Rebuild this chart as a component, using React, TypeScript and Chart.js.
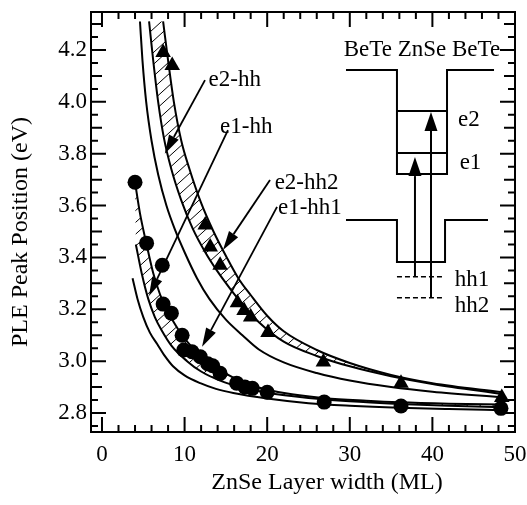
import React, { useEffect, useRef } from 'react';
import { Chart, registerables } from 'chart.js';

Chart.register(...registerables);

// ---------------- data ----------------
const xTickValues = [0, 10, 20, 30, 40, 50];
const yTickValues = [2.8, 3.0, 3.2, 3.4, 3.6, 3.8, 4.0, 4.2];

// measured PLE peaks (circles: e1-hh1 family)
const circleX = [4.0, 5.4, 7.3, 7.4, 8.4, 9.7, 9.9, 10.9, 11.9, 12.8, 13.4, 14.3, 16.3, 17.3, 18.2, 20.0, 26.9, 36.2, 48.3];
const circleY = [3.69, 3.455, 3.37, 3.22, 3.185, 3.10, 3.043, 3.036, 3.017, 2.99, 2.982, 2.953, 2.915, 2.9, 2.895, 2.88, 2.842, 2.827, 2.818];

// measured PLE peaks (triangles: e2-hh family)
const triangleX = [7.4, 8.5, 12.5, 13.1, 14.3, 16.4, 17.2, 18.0, 20.1, 26.8, 36.2, 48.4];
const triangleY = [4.19, 4.14, 3.525, 3.44, 3.37, 3.225, 3.195, 3.17, 3.11, 2.997, 2.915, 2.86];

// calculated curves, upper family
const e2OuterX = [4.6, 4.9, 5.35, 6.0, 6.8, 7.8, 8.8, 10, 11.5, 13, 15, 17, 19, 22, 26, 30, 35, 40, 48.5];
const e2OuterY = [4.31, 4.16, 4.0, 3.85, 3.72, 3.6, 3.51, 3.42, 3.32, 3.24, 3.16, 3.1, 3.045, 2.995, 2.954, 2.925, 2.9, 2.882, 2.86];
const e2BandLowX = [5.7, 6.2, 6.8, 7.5, 8.4, 9.6, 11, 12.5, 13.9, 15.5, 17, 19, 22, 26, 30, 35, 40, 48.5];
const e2BandLowY = [4.31, 4.16, 4.0, 3.86, 3.74, 3.62, 3.51, 3.42, 3.35, 3.28, 3.22, 3.15, 3.075, 3.02, 2.98, 2.942, 2.912, 2.873];
const e2BandHighX = [7.4, 8.0, 8.7, 9.6, 10.6, 12, 13.5, 15.1, 16.5, 18, 20, 22, 26, 30, 35, 40, 48.5];
const e2BandHighY = [4.31, 4.16, 4.0, 3.85, 3.74, 3.61, 3.5, 3.4, 3.32, 3.255, 3.175, 3.115, 3.043, 2.993, 2.947, 2.915, 2.88];

// calculated curves, lower family
const e1OuterX = [3.7, 4.3, 5.0, 5.8, 6.7, 7.6, 8.6, 10, 11.9, 13.8, 15.9, 20, 25, 30, 36, 42, 48.5];
const e1OuterY = [3.32, 3.24, 3.17, 3.11, 3.065, 3.02, 2.98, 2.945, 2.915, 2.893, 2.877, 2.856, 2.838, 2.828, 2.82, 2.815, 2.811];
const e1BandLowX = [4.1, 4.8, 5.6, 6.4, 7.2, 8.4, 10.3, 12, 14.3, 17, 20, 25, 30, 36, 42, 48.5];
const e1BandLowY = [3.45, 3.34, 3.24, 3.17, 3.12, 3.06, 3.0, 2.96, 2.925, 2.898, 2.878, 2.858, 2.845, 2.835, 2.828, 2.822];
const e1BandHighX = [4.0, 4.6, 5.4, 6.2, 7.0, 7.8, 8.6, 9.7, 11, 12.5, 14.3, 16.3, 18.3, 20, 23, 27, 32, 36, 42, 48.5];
const e1BandHighY = [3.69, 3.57, 3.45, 3.34, 3.26, 3.2, 3.155, 3.1, 3.05, 3.005, 2.965, 2.93, 2.905, 2.89, 2.872, 2.857, 2.847, 2.841, 2.836, 2.833];

const FONT = "'Liberation Serif', 'Times New Roman', serif";

const pts = (xs: number[], ys: number[]) => xs.map((x, i) => ({ x, y: ys[i] }));

function curve(xs: number[], ys: number[]) {
  return {
    data: pts(xs, ys),
    showLine: true,
    borderColor: '#000',
    borderWidth: 2,
    pointRadius: 0,
    cubicInterpolationMode: 'monotone' as const,
    fill: false,
  };
}

function bandPath(ctx: CanvasRenderingContext2D, U: any[], L: any[]) {
  ctx.beginPath();
  ctx.moveTo(U[0].x, U[0].y);
  for (let i = 1; i < U.length; i++) {
    const p = U[i - 1], t = U[i];
    ctx.bezierCurveTo(p.cp2x, p.cp2y, t.cp1x, t.cp1y, t.x, t.y);
  }
  const n = L.length;
  ctx.lineTo(L[n - 1].x, L[n - 1].y);
  for (let i = n - 2; i >= 0; i--) {
    const p = L[i + 1], t = L[i];
    ctx.bezierCurveTo(p.cp1x, p.cp1y, t.cp2x, t.cp2y, t.x, t.y);
  }
  ctx.closePath();
}

function arrow(ctx: CanvasRenderingContext2D, x1: number, y1: number, x2: number, y2: number, hl = 18, hw = 12) {
  const a = Math.atan2(y2 - y1, x2 - x1);
  const bx = x2 - hl * Math.cos(a), by = y2 - hl * Math.sin(a);
  ctx.beginPath();
  ctx.moveTo(x1, y1);
  ctx.lineTo(bx, by);
  ctx.stroke();
  ctx.beginPath();
  ctx.moveTo(x2, y2);
  ctx.lineTo(bx + (hw / 2) * Math.sin(a), by - (hw / 2) * Math.cos(a));
  ctx.lineTo(bx - (hw / 2) * Math.sin(a), by + (hw / 2) * Math.cos(a));
  ctx.closePath();
  ctx.fill();
}

const decorPlugin = {
  id: 'decor',
  beforeDatasetsDraw(chart: any) {
    const ctx: CanvasRenderingContext2D = chart.ctx;
    const area = chart.chartArea;
    const hatch = (iu: number, il: number) => {
      const mu = chart.getDatasetMeta(iu), ml = chart.getDatasetMeta(il);
      mu.dataset.updateControlPoints(area, 'x');
      ml.dataset.updateControlPoints(area, 'x');
      ctx.save();
      ctx.beginPath();
      ctx.rect(area.left, area.top, area.right - area.left, area.bottom - area.top);
      ctx.clip();
      bandPath(ctx, mu.data, ml.data);
      ctx.clip();
      ctx.strokeStyle = '#000';
      ctx.lineWidth = 1;
      ctx.beginPath();
      const h = area.bottom - area.top;
      for (let x0 = area.left - h; x0 < area.right + 20; x0 += 13) {
        ctx.moveTo(x0, area.bottom);
        ctx.lineTo(x0 + h * 1.1, area.top);
      }
      ctx.stroke();
      ctx.restore();
    };
    hatch(4, 3);
    hatch(7, 6);
  },
  afterDatasetsDraw(chart: any) {
    const ctx: CanvasRenderingContext2D = chart.ctx;
    const area = chart.chartArea;
    const sx = chart.scales.x, sy = chart.scales.y;
    const X = (v: number) => sx.getPixelForValue(v);
    const Y = (v: number) => sy.getPixelForValue(v);
    ctx.save();
    ctx.strokeStyle = '#000';
    ctx.fillStyle = '#000';
    ctx.lineWidth = 1.8;
    ctx.lineCap = 'butt';

    // label arrows
    arrow(ctx, X(12.47), Y(4.084), X(7.6), Y(3.80), 19, 11);
    arrow(ctx, X(15.25), Y(3.891), X(5.69), Y(3.251), 19, 11);
    arrow(ctx, X(20.34), Y(3.699), X(14.65), Y(3.429), 19, 11);
    arrow(ctx, X(21.19), Y(3.595), X(12.11), Y(3.055), 19, 11);

    ctx.font = `23px ${FONT}`;
    ctx.textBaseline = 'middle';
    ctx.textAlign = 'left';
    ctx.fillText('e2-hh', X(12.9), Y(4.084));
    ctx.fillText('e1-hh', X(14.3), Y(3.903));
    ctx.fillText('e2-hh2', X(20.9), Y(3.687));
    ctx.fillText('e1-hh1', X(21.3), Y(3.591));

    // inset: band diagram
    ctx.lineWidth = 2;
    const cbTop = Y(4.123), cbBot = Y(3.722);
    const wl = X(35.71), wr = X(41.77);
    ctx.beginPath();
    ctx.moveTo(X(29.54), cbTop);
    ctx.lineTo(wl, cbTop);
    ctx.lineTo(wl, cbBot);
    ctx.lineTo(wr, cbBot);
    ctx.lineTo(wr, cbTop);
    ctx.lineTo(X(47.46), cbTop);
    ctx.stroke();
    ctx.beginPath();
    ctx.moveTo(wl, Y(3.965));
    ctx.lineTo(wr, Y(3.965));
    ctx.moveTo(wl, Y(3.803));
    ctx.lineTo(wr, Y(3.803));
    ctx.stroke();
    const vbTop = Y(3.544), vbBot = Y(3.382);
    const vl = X(35.71), vr = X(41.53);
    ctx.beginPath();
    ctx.moveTo(X(29.54), vbTop);
    ctx.lineTo(vl, vbTop);
    ctx.lineTo(vl, vbBot);
    ctx.lineTo(vr, vbBot);
    ctx.lineTo(vr, vbTop);
    ctx.lineTo(X(46.73), vbTop);
    ctx.stroke();
    ctx.save();
    ctx.lineWidth = 1.5;
    ctx.setLineDash([5, 3]);
    ctx.beginPath();
    ctx.moveTo(vl, Y(3.325));
    ctx.lineTo(X(41.16), Y(3.325));
    ctx.moveTo(vl, Y(3.244));
    ctx.lineTo(X(41.16), Y(3.244));
    ctx.stroke();
    ctx.restore();
    arrow(ctx, X(37.89), Y(3.325), X(37.89), Y(3.787), 19, 13);
    arrow(ctx, X(39.83), Y(3.244), X(39.83), Y(3.961), 19, 13);

    ctx.textAlign = 'center';
    ctx.fillText('BeTe ZnSe BeTe', X(38.74), Y(4.20));
    ctx.textAlign = 'left';
    ctx.fillText('e2', X(43.1), Y(3.93));
    ctx.fillText('e1', X(43.3), Y(3.765));
    ctx.fillText('hh1', X(42.7), Y(3.313));
    ctx.fillText('hh2', X(42.7), Y(3.213));

    // frame
    ctx.lineWidth = 2;
    ctx.strokeRect(area.left, area.top, area.right - area.left, area.bottom - area.top);

    // inward ticks on all four sides
    ctx.beginPath();
    for (let k = 0; k <= 25; k++) {
      const v = k * 2;
      const x = X(v);
      const len = v % 10 === 0 ? 15 : 7;
      ctx.moveTo(x, area.bottom);
      ctx.lineTo(x, area.bottom - len);
      ctx.moveTo(x, area.top);
      ctx.lineTo(x, area.top + len);
    }
    for (let k = 55; k <= 86; k++) {
      const v = k * 0.05;
      const y = Y(v);
      const len = k % 4 === 0 ? 15 : k % 2 === 0 ? 11 : 7;
      ctx.moveTo(area.left, y);
      ctx.lineTo(area.left + len, y);
      ctx.moveTo(area.right, y);
      ctx.lineTo(area.right - len, y);
    }
    ctx.stroke();

    // axis titles
    ctx.font = `24px ${FONT}`;
    ctx.textAlign = 'center';
    ctx.textBaseline = 'middle';
    ctx.fillText('ZnSe Layer width (ML)', 327, 483);
    ctx.save();
    ctx.translate(21, 232);
    ctx.rotate(-Math.PI / 2);
    ctx.fillText('PLE Peak Position (eV)', 0, 0);
    ctx.restore();
    ctx.restore();
  },
};

export default function App() {
  const ref = useRef<HTMLCanvasElement>(null);
  useEffect(() => {
    if (!ref.current) return;
    const chart = new Chart(ref.current, {
      type: 'scatter',
      data: {
        datasets: [
          {
            data: pts(circleX, circleY),
            pointStyle: 'circle',
            pointRadius: 7.5,
            backgroundColor: '#000',
            borderColor: '#000',
            borderWidth: 0,
            showLine: false,
          },
          {
            data: pts(triangleX, triangleY),
            pointStyle: 'triangle',
            pointRadius: 9,
            backgroundColor: '#000',
            borderColor: '#000',
            borderWidth: 0,
            showLine: false,
          },
          curve(e2OuterX, e2OuterY),
          curve(e2BandLowX, e2BandLowY),
          curve(e2BandHighX, e2BandHighY),
          curve(e1OuterX, e1OuterY),
          curve(e1BandLowX, e1BandLowY),
          curve(e1BandHighX, e1BandHighY),
        ] as any,
      },
      options: {
        animation: false,
        responsive: false,
        events: [],
        layout: { padding: { left: 0, right: 12, top: 12, bottom: 0 } },
        plugins: {
          legend: { display: false },
          tooltip: { enabled: false },
          title: { display: false },
        },
        scales: {
          x: {
            type: 'linear',
            min: -1.33,
            max: 50,
            grid: { display: false, drawTicks: false },
            border: { display: false },
            ticks: {
              padding: 9,
              color: '#000',
              font: { family: FONT, size: 23 },
              maxRotation: 0,
              autoSkip: false,
              callback: (v: any) => String(v),
            },
            afterBuildTicks: (s: any) => {
              s.ticks = xTickValues.map((v) => ({ value: v }));
            },
            afterFit: (s: any) => {
              s.height = 73;
              s.paddingLeft = 0;
              s.paddingRight = 0;
            },
          },
          y: {
            type: 'linear',
            min: 2.7267,
            max: 4.3465,
            grid: { display: false, drawTicks: false },
            border: { display: false },
            ticks: {
              padding: 4,
              color: '#000',
              font: { family: FONT, size: 23 },
              autoSkip: false,
              callback: (v: any) => Number(v).toFixed(1),
            },
            afterBuildTicks: (s: any) => {
              s.ticks = yTickValues.map((v) => ({ value: v }));
            },
            afterFit: (s: any) => {
              s.width = 91;
              s.paddingTop = 0;
              s.paddingBottom = 0;
            },
          },
        },
      } as any,
      plugins: [decorPlugin as any],
    });
    return () => chart.destroy();
  }, []);
  return (
    <div style={{ position: 'fixed', left: 0, top: 0, width: 527, height: 505, background: '#fff' }}>
      <canvas ref={ref} width={527} height={505} style={{ width: 527, height: 505, display: 'block' }} />
    </div>
  );
}
